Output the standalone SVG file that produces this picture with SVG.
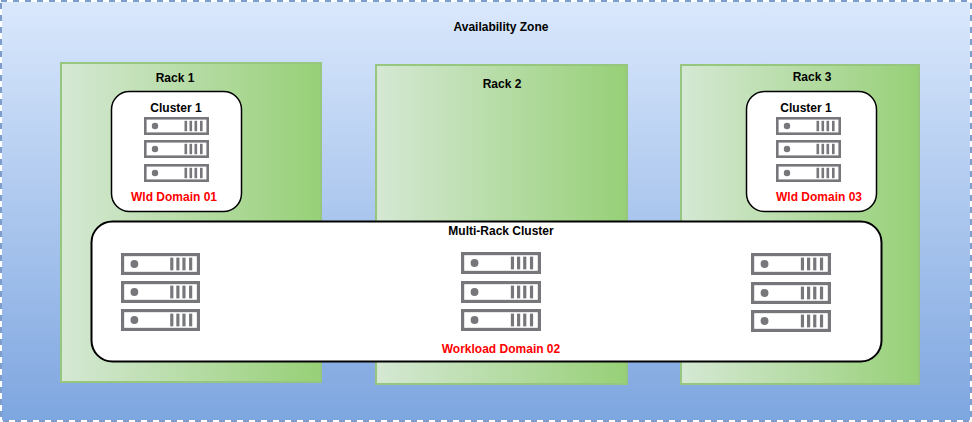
<svg xmlns="http://www.w3.org/2000/svg" width="972" height="422" viewBox="0 0 972 422">
<style>
text{font-family:"Liberation Sans",Arial,sans-serif;font-size:12px;font-weight:700;text-anchor:middle;fill:#000}
text.r{fill:#ff0000}
.rack{fill:url(#g);stroke:#97c77f;stroke-width:2}
.box{fill:#fff;stroke:#000;stroke-width:1.5}
.big{stroke-width:2}
</style>
<defs>
<linearGradient id="bg" x1="0" y1="0" x2="0" y2="1"><stop offset="0" stop-color="#dae8fc"/><stop offset="1" stop-color="#7ea6e0"/></linearGradient>
<linearGradient id="g" x1="0" y1="0" x2="1" y2="0"><stop offset="0" stop-color="#d5e8d4"/><stop offset="1" stop-color="#97d077"/></linearGradient>
<symbol id="srv" viewBox="0 0 65 18" preserveAspectRatio="none">
<rect x="1.300" y="1.300" width="62.400" height="15.400" fill="#fff" stroke="#77777b" stroke-width="2.600"/>
<circle cx="11" cy="9" r="3.200" fill="#77777b"/>
<rect x="40.500" y="3.800" width="2.600" height="10.400" fill="#77777b"/><rect x="45.500" y="3.800" width="2.600" height="10.400" fill="#77777b"/><rect x="50.500" y="3.800" width="2.600" height="10.400" fill="#77777b"/><rect x="56" y="3.800" width="2.600" height="10.400" fill="#77777b"/>
</symbol>
</defs>
<g id="zone"><rect x="0" y="0" width="972" height="422" fill="#fff"/><rect x="2" y="2" width="968" height="418" fill="url(#bg)"/><rect x="1" y="1" width="970" height="420" fill="none" stroke="#7c9ccb" stroke-width="2" stroke-dasharray="6 6"/><text x="501" y="31">Availability Zone</text></g>
<g id="rack1"><rect class="rack" x="61" y="63" width="260" height="319"/><text x="175" y="82">Rack 1</text></g>
<g id="rack2"><rect class="rack" x="376" y="65" width="251" height="319"/><text x="502" y="88">Rack 2</text></g>
<g id="rack3"><rect class="rack" x="681" y="65" width="238" height="319"/><text x="812" y="81">Rack 3</text></g>
<g id="cluster1a"><rect class="box" x="111.500" y="91.500" width="130" height="120" rx="18"/><text x="176" y="112">Cluster 1</text>
<use href="#srv" x="144" y="117" width="65" height="18"/><use href="#srv" x="144" y="140" width="65" height="18"/><use href="#srv" x="144" y="164" width="65" height="18"/>
<text class="r" x="174" y="201">Wld Domain 01</text></g>
<g id="cluster1b"><rect class="box" x="746.500" y="91.500" width="130" height="120" rx="18"/><text x="806" y="112">Cluster 1</text>
<use href="#srv" x="776" y="117" width="65" height="18"/><use href="#srv" x="776" y="140" width="65" height="18"/><use href="#srv" x="776" y="164" width="65" height="18"/>
<text class="r" x="819" y="201">Wld Domain 03</text></g>
<g id="multirack"><rect class="box big" x="91.500" y="221.500" width="790" height="140" rx="21"/><text x="501" y="235">Multi-Rack Cluster</text>
<use href="#srv" x="121" y="253" width="79" height="22"/><use href="#srv" x="121" y="281" width="79" height="22"/><use href="#srv" x="121" y="309" width="79" height="22"/>
<use href="#srv" x="461" y="252" width="80" height="22"/><use href="#srv" x="461" y="281" width="80" height="22"/><use href="#srv" x="461" y="309" width="80" height="22"/>
<use href="#srv" x="751" y="253" width="80" height="22"/><use href="#srv" x="751" y="282" width="80" height="22"/><use href="#srv" x="751" y="310" width="80" height="22"/>
<text class="r" x="501" y="353">Workload Domain 02</text></g>
<g id="connectors"/>
</svg>
